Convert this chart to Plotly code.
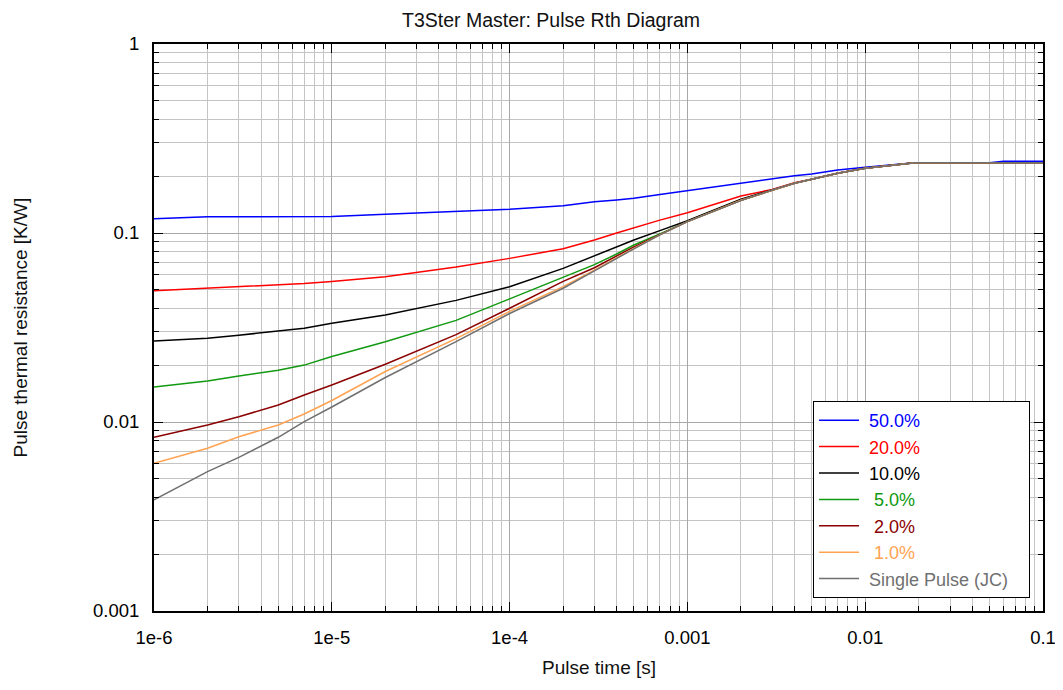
import plotly.graph_objects as go

# Pulse time [s]
pulse_time = [1e-6, 2e-6, 3e-6, 5e-6, 7e-6, 1e-5, 2e-5, 5e-5, 1e-4, 2e-4, 3e-4, 4e-4, 5e-4, 7e-4,
              1e-3, 2e-3, 3e-3, 4e-3, 5e-3, 7e-3, 1e-2, 1.4e-2, 1.9e-2, 5e-2, 6e-2, 1e-1]

# Pulse thermal resistance [K/W] per duty cycle
rth_50 = [0.119, 0.122, 0.122, 0.122, 0.122, 0.1222, 0.1256, 0.1297, 0.1334, 0.1395, 0.1463, 0.1495,
          0.1526, 0.1597, 0.1675, 0.1833, 0.1923, 0.201, 0.205, 0.2156, 0.2226, 0.229, 0.2355, 0.2355,
          0.240, 0.240]
rth_20 = [0.0495, 0.0509, 0.052, 0.0531, 0.054, 0.0553, 0.0587, 0.066, 0.0734, 0.0825, 0.0918, 0.1, 
          0.1065, 0.117, 0.1281, 0.157, 0.170, 0.1845, 0.1923, 0.207, 0.220, 0.229, 0.2355, 0.2355,
          0.2355, 0.2355]
rth_10 = [0.0268, 0.0277, 0.0288, 0.0303, 0.0313, 0.0333, 0.0368, 0.044, 0.052, 0.065, 0.0755, 0.0847,
          0.0918, 0.1029, 0.1161, 0.1508, 0.1689, 0.1833, 0.1923, 0.207, 0.220, 0.229, 0.2355, 0.2355,
          0.2355, 0.2355]
rth_5 = [0.0153, 0.0165, 0.0175, 0.0188, 0.020, 0.0222, 0.0266, 0.0345, 0.0448, 0.058, 0.068, 0.0774,
         0.0864, 0.099, 0.1148, 0.149, 0.1689, 0.1833, 0.1923, 0.207, 0.220, 0.229, 0.2355, 0.2355,
         0.2355, 0.2355]
rth_2 = [0.0083, 0.00964, 0.01067, 0.0123, 0.0139, 0.0157, 0.0202, 0.029, 0.040, 0.0555, 0.0655, 0.0755,
         0.0845, 0.098, 0.1148, 0.149, 0.1689, 0.1833, 0.1923, 0.207, 0.220, 0.229, 0.2355, 0.2355,
         0.2355, 0.2355]
rth_1 = [0.00604, 0.00726, 0.00836, 0.00964, 0.01102, 0.0130, 0.0185, 0.0276, 0.0385, 0.052, 0.0635,
         0.074, 0.083, 0.0977, 0.1148, 0.149, 0.1689, 0.1833, 0.1923, 0.207, 0.220, 0.229, 0.2355,
         0.2355, 0.2355, 0.2355]
rth_single = [0.00387, 0.00546, 0.0065, 0.0083, 0.01004, 0.0120, 0.0172, 0.0266, 0.0375, 0.051, 0.063,
              0.0735, 0.0825, 0.0977, 0.1148, 0.1483, 0.1689, 0.1833, 0.1923, 0.207, 0.220, 0.229,
              0.2355, 0.2355, 0.2355, 0.2355]

NB = "\u00a0"
series_names = [NB + "50.0%", NB + "20.0%", NB + "10.0%", NB * 2 + "5.0%", NB * 2 + "2.0%",
                NB * 2 + "1.0%", NB + "Single Pulse (JC)" + NB * 3]
series_values = [rth_50, rth_20, rth_10, rth_5, rth_2, rth_1, rth_single]
series_colors = ["#0000ff", "#ff0000", "#000000", "#119911", "#8b0000", "#ffa352", "#707070"]

x_tick_vals = [1e-6, 1e-5, 1e-4, 1e-3, 1e-2, 1e-1]
x_tick_text = ["1e-6", "1e-5", "1e-4", "0.001", "0.01", "0.1"]
y_tick_vals = [0.001, 0.01, 0.1, 1]
y_tick_text = ["0.001", "0.01", "0.1", "1"]


def minor_vals(lo_exp, hi_exp):
    vals = []
    for e in range(lo_exp, hi_exp):
        for m in range(2, 10):
            vals.append(m * 10.0 ** e)
    return vals


FONT = "Liberation Sans, Arial, sans-serif"

fig = go.Figure()
for name, vals, col in zip(series_names, series_values, series_colors):
    fig.add_trace(go.Scatter(
        x=pulse_time, y=vals, mode="lines",
        name=f"<span style='color:{col}'>{name}</span>",
        line=dict(color=col, width=1.5),
    ))

axis_common = dict(
    type="log", showline=True, linecolor="black", linewidth=2, mirror="ticks",
    ticks="inside", ticklen=9, tickwidth=1.3, tickcolor="black",
    showgrid=True, gridcolor="#a8a8a8", gridwidth=1, zeroline=False, automargin=False,
    tickfont=dict(family=FONT, size=18.5, color="black"),
)

fig.update_xaxes(
    range=[-6, -1], tickmode="array", tickvals=x_tick_vals, ticktext=x_tick_text,
    ticklabelstandoff=9,
    minor=dict(tickmode="array", tickvals=minor_vals(-6, -1), ticks="inside", ticklen=5,
               tickcolor="black", tickwidth=1, showgrid=True, gridcolor="#c4c4c4", gridwidth=1),
    **axis_common,
)
fig.update_yaxes(
    range=[-3, 0], tickmode="array", tickvals=y_tick_vals, ticktext=y_tick_text,
    ticklabelstandoff=9,
    minor=dict(tickmode="array", tickvals=minor_vals(-3, 0), ticks="inside", ticklen=5,
               tickcolor="black", tickwidth=1, showgrid=True, gridcolor="#c4c4c4", gridwidth=1),
    **axis_common,
)

# page body has an 8px margin, so the figure is 8px smaller and margins shifted
fig.update_layout(
    width=1055, height=682,
    margin=dict(l=146, r=20, t=36, b=79),
    paper_bgcolor="white", plot_bgcolor="white",
    font=dict(family=FONT, size=19, color="black"),
    showlegend=True,
    legend=dict(
        x=0.9854, y=0.0229, xanchor="right", yanchor="bottom",
        bgcolor="white", bordercolor="black", borderwidth=1,
        font=dict(family=FONT, size=18), itemwidth=40, tracegroupgap=0,
    ),
    annotations=[
        dict(text="T3Ster Master: Pulse Rth Diagram", x=(551 - 154) / 889, y=1 + (44 - 20) / 567,
             xref="paper", yref="paper", showarrow=False,
             font=dict(family=FONT, size=19.5, color="#111111"),
             xanchor="center", yanchor="middle"),
        dict(text="Pulse time [s]", x=0.5, y=-(667 - 611) / 567, xref="paper", yref="paper",
             showarrow=False, font=dict(family=FONT, size=19, color="#111111"),
             xanchor="center", yanchor="middle"),
        dict(text="Pulse thermal resistance [K/W]", x=(20 - 154) / 889, y=0.5, xref="paper",
             yref="paper", showarrow=False, textangle=-90,
             font=dict(family=FONT, size=19, color="#111111"),
             xanchor="center", yanchor="middle"),
    ],
)

fig.write_html("out.html")
